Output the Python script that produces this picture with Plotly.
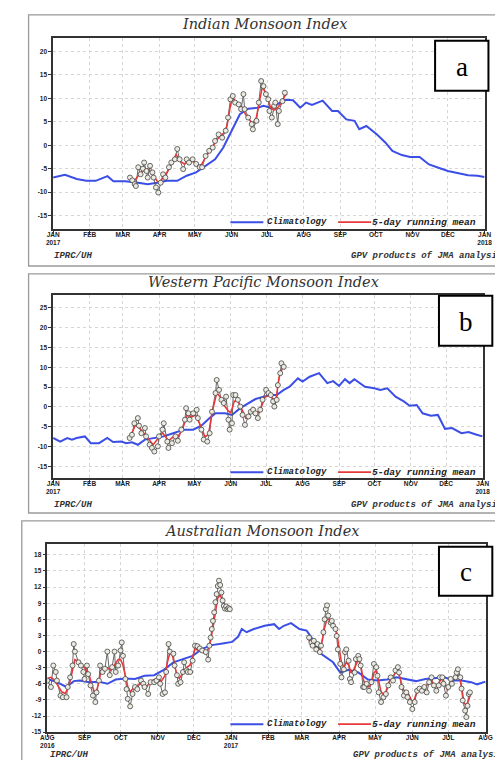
import pandas as pd
import plotly.graph_objects as go

# ---------------- DATA ----------------
# Panel a: Indian Monsoon Index (day offsets from 2017-01-01)
A_BASE = "2017-01-01"
a_clim_day = [0,10,20,28,36,46,51,61,72,80,88,96,105,113,121,129,137,144,151,158,
              165,173,178,184,189,196,203,209,214,219,228,236,241,248,255,259,265,274,281,287,
              295,302,310,318,326,334,343,351,359,365]
a_clim_val = [-6.9,-6.3,-7.2,-7.6,-7.6,-6.6,-7.7,-7.7,-8.0,-8.3,-8.0,-7.6,-7.6,-6.5,-5.8,-4.4,-3.0,-0.5,3.1,6.6,
              7.8,8.0,8.4,8.0,8.6,9.7,9.6,8.0,9.1,8.6,9.5,7.3,7.3,5.5,5.2,3.4,4.1,2.3,0.6,-1.2,
              -2.1,-2.5,-2.5,-4.1,-4.8,-5.5,-6.0,-6.4,-6.5,-6.8]
a_obs_day = [65,67,69,70,72,74,76,77,79,80,82,84,85,87,89,91,93,95,98,100,
             103,105,107,110,113,115,118,121,124,126,129,132,135,137,140,143,146,148,150,152,
             154,157,159,161,162,165,168,169,172,174,176,178,180,182,183,185,187,188,190,191,
             194,196]
a_obs_val = [-6.9,-7.5,-8.3,-8.7,-4.7,-6.2,-5.0,-3.7,-5.5,-6.9,-4.4,-5.8,-6.9,-9.0,-10.1,-8.0,-6.2,-6.9,-4.7,-3.7,
             -3.0,-0.8,-3.0,-5.1,-3.0,-3.7,-3.0,-4.0,-4.7,-4.7,-2.3,-1.2,-0.5,0.9,2.3,1.6,3.1,5.9,9.8,10.5,
             9.1,8.7,7.7,10.9,7.7,5.9,4.5,3.4,5.2,9.1,13.7,12.6,10.9,9.8,7.3,5.9,8.4,9.1,4.5,7.3,
             9.4,11.2]
a_rm_day = [65,69,72,76,80,85,89,93,97,101,104,108,111,115,119,123,126,129,133,137,
            141,144,147,150,152,156,160,163,167,169,172,175,177,181,184,187,190,193,196,198]
a_rm_val = [-6.9,-7.5,-6.5,-5.5,-5.0,-6.5,-8.0,-7.0,-5.5,-3.5,-2.0,-3.5,-4.0,-3.3,-3.5,-4.5,-4.0,-2.5,-1.0,0.5,
            2.0,2.5,4.0,8.5,10.0,9.0,8.0,6.5,5.0,4.5,6.0,10.0,12.5,10.5,8.0,7.5,8.0,9.0,10.5,11.0]

# Panel b: Western Pacific Monsoon Index (day offsets from 2017-01-01)
B_BASE = "2017-01-01"
b_clim_day = [0,6,12,16,20,27,32,39,46,51,58,62,67,72,78,86,94,102,111,119,
              126,133,138,146,152,159,166,172,179,185,190,196,201,208,212,218,226,233,238,243,
              248,252,256,265,273,278,284,291,298,303,309,314,321,327,333,339,347,353,360,365]
b_clim_val = [-7.8,-8.7,-7.8,-8.2,-7.8,-7.4,-9.1,-9.1,-7.8,-8.8,-8.7,-9.1,-8.9,-9.5,-8.2,-7.8,-7.4,-6.6,-5.7,-5.7,
              -4.7,-2.8,-1.6,-1.6,-2.0,-0.3,1.0,2.0,2.6,3.0,3.0,4.3,5.1,7.2,6.4,7.6,8.5,6.0,6.5,5.3,
              7.0,6.0,7.0,5.1,4.7,4.3,4.7,2.6,1.4,0.3,0.5,-1.6,-2.2,-2.0,-5.5,-5.3,-6.6,-6.3,-7.0,-7.4]
b_obs_day = [65,67,69,72,73,75,78,79,82,84,86,89,90,93,94,97,98,101,104,106,
             109,112,113,115,116,119,122,123,126,128,131,133,135,138,139,141,143,145,147,149,
             150,152,153,155,157,159,161,163,166,168,170,172,174,176,178,181,183,185,187,188,
             190,191,193,194,196]
b_obs_val = [-7.8,-7.0,-4.1,-2.8,-4.7,-6.6,-5.3,-7.4,-9.5,-10.3,-11.2,-9.9,-7.4,-5.7,-4.1,-8.7,-10.3,-9.1,-7.4,-8.5,
             -5.7,-3.2,-0.3,-1.6,-3.2,-1.6,-0.7,-2.8,-5.7,-8.2,-8.7,-6.6,-1.2,3.5,6.8,4.3,1.8,1.0,2.6,-3.2,
             -5.7,-4.1,3.0,3.0,1.8,0.1,-2.0,-4.5,-2.4,-1.2,-0.7,-1.6,-2.8,-0.7,1.8,4.3,3.5,3.0,1.4,0.1,
             1.8,5.5,8.5,11.0,10.1]
b_rm_day = [65,70,74,78,82,85,89,93,98,102,106,110,114,118,121,125,129,132,135,139,
            142,145,149,151,154,157,161,164,167,171,174,177,180,184,187,189,192,195,197]
b_rm_val = [-7.8,-4.5,-5.5,-7.0,-8.5,-9.5,-8.0,-6.5,-8.5,-7.5,-7.5,-5.5,-2.0,-2.5,-2.0,-4.5,-7.5,-7.0,-1.5,3.5,
            2.5,0.5,-1.0,-1.5,1.5,1.5,-1.0,-3.0,-1.5,-1.0,-1.5,0.0,2.5,3.0,2.0,1.0,7.5,10.0,9.5]

# Panel c: Australian Monsoon Index (day offsets from 2016-08-01)
C_BASE = "2016-08-01"
c_clim_day = [0,8,16,22,27,35,43,50,57,65,73,81,89,97,105,113,121,129,137,146,
              154,159,162,166,172,181,189,193,197,203,210,216,221,226,232,238,244,251,259,267,
              275,283,291,299,307,315,323,331,338,345,353,358,365]
c_clim_val = [-5.1,-5.7,-6.6,-5.5,-5.4,-5.7,-5.6,-6.0,-5.2,-5.0,-5.1,-4.5,-4.4,-3.4,-2.0,-1.4,-0.8,0.5,1.2,1.5,
              1.8,2.8,4.2,3.6,4.2,4.8,5.1,4.2,4.8,5.3,4.2,3.9,2.3,-0.1,-1.1,-2.0,-3.9,-3.4,-3.9,-5.2,
              -5.4,-5.2,-4.8,-5.1,-5.5,-5.1,-5.0,-4.8,-5.4,-5.4,-5.7,-6.1,-5.6]
c_obs1_day = [0,3,5,7,8,11,13,16,17,19,21,22,23,26,28,30,31,33,34,36,
              38,40,41,43,44,46,48,50,52,54,56,57,59,61,62,63,65,66,67,69,
              71,73,75,78,80,81,84,86,89,91,93,94,96,98,99,101,102,105,106,108,
              109,111,113,114,116,117,119,121,123,125,127,129,132,134,135,136,137,138,139,140,
              141,142,143,144,145,146,147,148,149,150,151,152]
c_obs1_val = [-5.4,-6.6,-2.6,-3.8,-5.4,-8.2,-8.5,-8.5,-6.6,-4.8,-2.6,1.4,0.0,-2.0,-2.6,-3.8,-5.1,-2.6,-4.2,-6.3,
              -8.2,-9.4,-7.6,-5.4,-2.6,-3.8,-3.2,0.0,-4.4,-2.9,0.0,-3.8,-2.6,0.2,1.7,-0.8,-5.1,-7.0,-8.8,-10.2,
              -7.9,-6.6,-7.0,-5.4,-6.0,-6.6,-7.9,-5.7,-5.7,-5.4,-4.8,-6.0,-7.9,-7.6,-3.8,1.4,0.0,-0.4,-2.6,-4.4,
              -6.0,-5.7,-3.8,-2.0,-3.5,-3.8,-3.8,-1.7,1.1,1.0,0.6,0.2,-0.1,-1.5,1.1,2.6,4.2,5.7,7.3,9.2,
              10.7,12.2,13.2,12.4,11.0,9.5,8.5,8.0,8.4,7.9,8.1,7.9]
c_rm1_day = [0,3,6,9,12,15,18,21,23,26,29,32,35,37,39,41,43,45,48,50,
             53,56,59,61,63,65,67,69,71,74,77,80,83,86,89,92,95,98,100,102,
             104,106,108,110,113,116,119,121,123,126,129,132,134,136,138,140,142,144,146,148,
             150,152]
c_rm1_val = [-5.0,-4.8,-5.3,-6.5,-7.5,-7.8,-6.5,-3.5,-1.5,-1.8,-2.5,-3.3,-4.5,-6.0,-7.5,-7.5,-5.5,-3.5,-3.0,-3.0,
             -3.5,-2.5,-1.5,-1.5,-2.5,-4.5,-6.5,-7.5,-7.0,-6.5,-6.0,-6.2,-6.5,-5.5,-5.3,-5.0,-5.5,-4.5,-2.0,-0.3,
             -0.5,-2.5,-4.5,-5.0,-4.0,-3.0,-2.5,-1.0,0.5,0.2,0.0,-0.3,0.5,2.0,4.5,7.5,10.0,10.5,9.5,8.5,
             8.0,7.8]
c_obs2_day = [218,220,221,222,224,225,227,228,230,231,232,233,234,236,237,238,240,241,242,244,
              245,247,248,249,251,252,253,256,257,259,260,261,263,264,266,268,270,272,274,275,
              276,278,280,282,284,286,288,290,292,293,295,297,299,300,302,304,306,308,310,312,
              314,316,318,320,322,324,326,327,329,330,332,334,336,337,340,341,342,344,345,346,
              348,349,350,351,352]
c_obs2_val = [2.6,1.7,1.1,2.0,0.4,1.4,-0.1,1.1,3.6,6.0,7.9,8.6,6.7,5.4,5.7,4.8,4.2,2.9,0.4,-2.3,
              -4.8,-3.3,-0.1,0.4,-1.7,-5.1,-5.7,-3.9,-1.4,-0.8,-1.4,-2.6,-6.6,-6.6,-6.0,-7.3,-5.7,-2.3,-2.9,-4.5,
              -7.6,-9.4,-8.5,-7.9,-6.3,-4.8,-5.4,-3.5,-2.9,-3.9,-6.6,-8.2,-7.6,-8.5,-9.4,-10.7,-9.4,-7.3,-6.9,-7.3,
              -6.6,-7.6,-5.7,-4.8,-6.3,-7.3,-6.3,-4.8,-4.8,-6.0,-8.2,-6.6,-5.1,-6.0,-4.8,-3.9,-3.3,-4.8,-6.9,-9.1,
              -11.0,-12.2,-10.1,-7.9,-7.6]
c_rm2_day = [217,219,221,224,227,229,231,233,235,237,239,241,243,245,247,249,251,253,255,257,
             259,261,263,265,268,270,272,274,276,278,280,282,284,286,288,290,292,294,296,299,
             301,303,305,307,310,312,315,318,320,322,325,327,329,331,333,335,337,339,341,343,
             345,347,349,351,353]
c_rm2_val = [2.9,1.5,1.0,0.5,0.5,2.0,4.5,6.0,6.0,5.5,5.0,3.5,1.0,-2.0,-3.0,-2.0,-2.5,-4.0,-3.5,-2.5,
             -1.5,-2.5,-5.0,-6.5,-6.5,-6.0,-4.0,-3.5,-5.5,-7.5,-8.0,-7.5,-6.0,-5.0,-4.5,-4.0,-3.8,-5.0,-7.0,-7.5,
             -8.0,-9.0,-9.5,-8.0,-7.0,-7.0,-6.5,-6.0,-5.5,-6.5,-6.5,-5.5,-5.0,-5.8,-7.0,-6.5,-5.5,-5.0,-4.5,-4.5,
             -6.5,-9.5,-10.0,-9.0,-7.5]

# Tick labels
ab_xtick_dates = ["2017-01-01","2017-02-01","2017-03-01","2017-04-01","2017-05-01","2017-06-01","2017-07-01",
                  "2017-08-01","2017-09-01","2017-10-01","2017-11-01","2017-12-01","2018-01-01"]
ab_xtick_text = ["JAN<br>2017","FEB","MAR","APR","MAY","JUN","JUL","AUG","SEP","OCT","NOV","DEC","JAN<br>2018"]
c_xtick_dates = ["2016-08-01","2016-09-01","2016-10-01","2016-11-01","2016-12-01","2017-01-01","2017-02-01",
                 "2017-03-01","2017-04-01","2017-05-01","2017-06-01","2017-07-01","2017-08-01"]
c_xtick_text = ["AUG<br>2016","SEP","OCT","NOV","DEC","JAN<br>2017","FEB","MAR","APR","MAY","JUN","JUL","AUG"]
a_ytick = [-15,-10,-5,0,5,10,15,20]
b_ytick = [-15,-10,-5,0,5,10,15,20,25]
c_ytick = [-15,-12,-9,-6,-3,0,3,6,9,12,15,18]

titles = ["Indian Monsoon Index", "Western Pacific Monsoon Index", "Australian Monsoon Index"]
panel_labels = ["a", "b", "c"]
legend_names = ["Climatology", "5-day running mean"]
footer_left = "IPRC/UH"
footer_right = "GPV products of JMA analysis"

# ---------------- LAYOUT HELPERS ----------------
W, H = 503, 760
def X(p): return p / W
def Y(p): return 1 - p / H

def dts(base, days):
    return pd.Timestamp(base) + pd.to_timedelta(days, unit="D")

BLUE = "#3b4ee6"
RED = "#e8393a"
GRAYL = "#555555"

fig = go.Figure()

def add_series(base, clim_d, clim_v, segs, ax):
    xa = "x" if ax == 1 else f"x{ax}"
    ya = "y" if ax == 1 else f"y{ax}"
    fig.add_trace(go.Scatter(x=dts(base, clim_d), y=clim_v, mode="lines",
                             line=dict(color=BLUE, width=2), xaxis=xa, yaxis=ya,
                             showlegend=False, hoverinfo="skip"))
    for od, ov, rd, rv in segs:
        fig.add_trace(go.Scatter(x=dts(base, od), y=ov, mode="lines",
                                 line=dict(color=GRAYL, width=0.9), xaxis=xa, yaxis=ya,
                                 showlegend=False, hoverinfo="skip"))
        fig.add_trace(go.Scatter(x=dts(base, rd), y=rv, mode="lines",
                                 line=dict(color=RED, width=1.6), xaxis=xa, yaxis=ya,
                                 showlegend=False, hoverinfo="skip"))
        fig.add_trace(go.Scatter(x=dts(base, od), y=ov, mode="markers",
                                 marker=dict(symbol="circle", size=5, color="#ecebe2",
                                             line=dict(color="#444444", width=0.8)),
                                 xaxis=xa, yaxis=ya, showlegend=False, hoverinfo="skip"))

add_series(A_BASE, a_clim_day, a_clim_val, [(a_obs_day, a_obs_val, a_rm_day, a_rm_val)], 1)
add_series(B_BASE, b_clim_day, b_clim_val, [(b_obs_day, b_obs_val, b_rm_day, b_rm_val)], 2)
add_series(C_BASE, c_clim_day, c_clim_val, [(c_obs1_day, c_obs1_val, c_rm1_day, c_rm1_val),
                                            (c_obs2_day, c_obs2_val, c_rm2_day, c_rm2_val)], 3)

tickfont = dict(family="Liberation Sans", size=6.5, color="#222222", weight="bold")

def xaxis_cfg(dom, rng, tv, tt, anchor):
    return dict(domain=dom, range=rng, type="date", tickvals=tv, ticktext=tt, tickmode="array",
                tickfont=tickfont, ticks="outside", ticklen=3, tickcolor="#333", tickwidth=1,
                ticklabelstandoff=-5,
                showgrid=True, gridcolor="#d6d6d6", griddash="dot", gridwidth=1,
                showline=True, mirror=True, linecolor="#333333", linewidth=1.5,
                zeroline=False, anchor=anchor, tickangle=0)

def yaxis_cfg(dom, rng, tv, anchor):
    return dict(domain=dom, range=rng, tickvals=tv, ticktext=[str(v) for v in tv], tickmode="array",
                tickfont=tickfont, ticks="outside", ticklen=3, tickcolor="#333", tickwidth=1,
                showgrid=True, gridcolor="#d6d6d6", griddash="dot", gridwidth=1,
                showline=True, mirror=True, linecolor="#333333", linewidth=1.5,
                zeroline=False, anchor=anchor)

# plot areas in pixels: (left, right, top, bottom)
areas = [(39.3, 484, 30, 222), (39.3, 482, 288, 472), (33.3, 485, 538, 727)]
yr = [[-17.9, 22.9], [-17.9, 28.2], [-15, 20.05]]

layout = dict(width=W, height=H, margin=dict(l=0, r=0, t=0, b=0), autosize=False,
              paper_bgcolor="white", plot_bgcolor="white", showlegend=False)
for i, (l, r, t, b) in enumerate(areas):
    n = "" if i == 0 else str(i + 1)
    if i < 2:
        xr = ["2017-01-01", "2018-01-01"]; tv, tt = ab_xtick_dates, ab_xtick_text
    else:
        xr = ["2016-08-01", "2017-08-01"]; tv, tt = c_xtick_dates, c_xtick_text
    layout["xaxis" + n] = xaxis_cfg([X(l), X(r)], xr, tv, tt, "y" + n)
    layout["yaxis" + n] = yaxis_cfg([Y(b), Y(t)], yr[i], [a_ytick, b_ytick, c_ytick][i], "x" + n)
fig.update_layout(**layout)

shapes = []
annots = []
# outer frames
frames = [(14, 506, 7, 259), (14, 506, 267, 507), (7, 506, 515, 770)]
for (l, r, t, b) in frames:
    shapes.append(dict(type="rect", xref="paper", yref="paper", x0=X(l), x1=X(r), y0=Y(b), y1=Y(t),
                       line=dict(color="#9a9a9a", width=1.3), fillcolor="rgba(0,0,0,0)", layer="below"))

title_pos = [(257, 16), (256, 275), (254, 525)]
footer_y = [249, 499, 750]
footer_lx = [38, 38, 34]
footer_rx = [344, 344, 346]
legend_y = [215, 466, 719]
boxes = [(433, 488, 33, 83), (437, 492, 289, 339), (437, 492, 541, 590)]

monofont = dict(family="Liberation Mono", size=9, color="#333333")
for i in range(3):
    tx, ty = title_pos[i]
    annots.append(dict(xref="paper", yref="paper", x=X(tx), y=Y(ty), text="<i>" + titles[i] + "</i>",
                       showarrow=False, xanchor="center", yanchor="middle",
                       font=dict(family="DejaVu Serif", size=14.5, color="#333333")))
    annots.append(dict(xref="paper", yref="paper", x=X(footer_lx[i]), y=Y(footer_y[i]),
                       text="<b><i>" + footer_left + "</i></b>", showarrow=False,
                       xanchor="left", yanchor="middle", font=monofont))
    annots.append(dict(xref="paper", yref="paper", x=X(footer_rx[i]), y=Y(footer_y[i]),
                       text="<b><i>" + footer_right + "</i></b>", showarrow=False,
                       xanchor="left", yanchor="middle", font=monofont))
    ly = legend_y[i]
    shapes.append(dict(type="line", xref="paper", yref="paper", x0=X(222), x1=X(256), y0=Y(ly), y1=Y(ly),
                       line=dict(color=BLUE, width=2)))
    shapes.append(dict(type="line", xref="paper", yref="paper", x0=X(333), x1=X(367), y0=Y(ly), y1=Y(ly),
                       line=dict(color=RED, width=1.6)))
    annots.append(dict(xref="paper", yref="paper", x=X(258), y=Y(ly), text="<b><i>" + legend_names[0] + "</i></b>",
                       showarrow=False, xanchor="left", yanchor="middle",
                       font=dict(family="Liberation Mono", size=9, color="#222222")))
    annots.append(dict(xref="paper", yref="paper", x=X(366), y=Y(ly), text="<b><i>" + legend_names[1] + "</i></b>",
                       showarrow=False, xanchor="left", yanchor="middle",
                       font=dict(family="Liberation Mono", size=9.6, color="#222222")))
    bl, br, bt, bb = boxes[i]
    shapes.append(dict(type="rect", xref="paper", yref="paper", x0=X(bl), x1=X(br), y0=Y(bb), y1=Y(bt),
                       line=dict(color="black", width=2), fillcolor="white", layer="above"))
    annots.append(dict(xref="paper", yref="paper", x=X((bl + br) / 2), y=Y((bt + bb) / 2 + 1),
                       text=panel_labels[i], showarrow=False, xanchor="center", yanchor="middle",
                       font=dict(family="Liberation Serif", size=27, color="black")))

fig.update_layout(shapes=shapes, annotations=annots)
fig.write_html("out.html")
